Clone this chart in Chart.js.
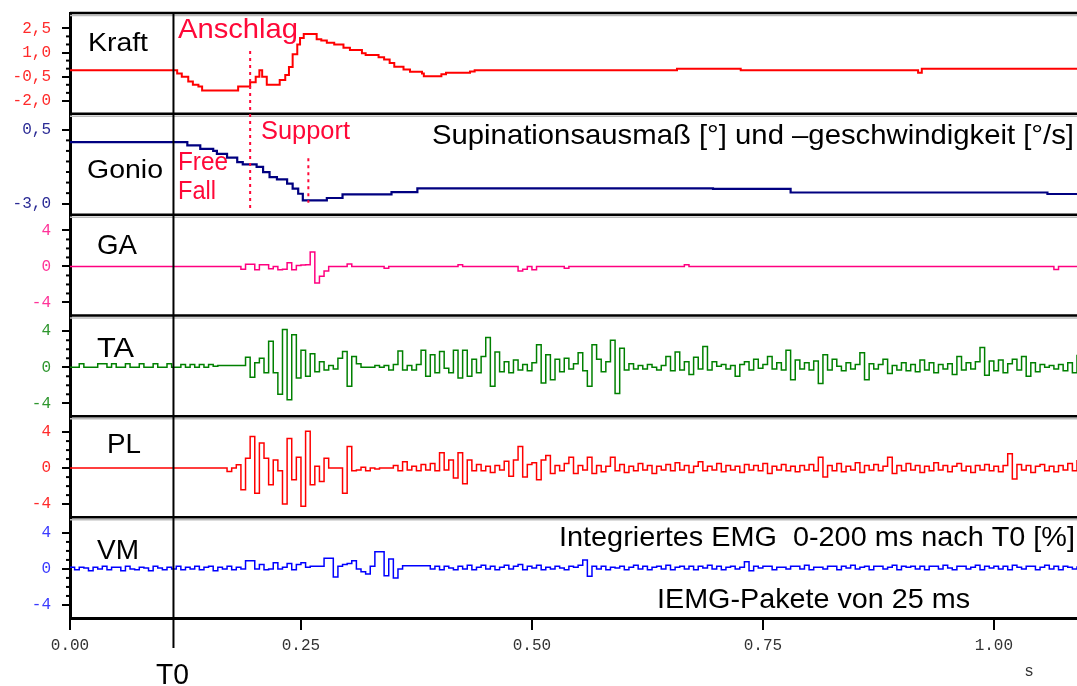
<!DOCTYPE html>
<html>
<head>
<meta charset="utf-8">
<title>Kraft, Gonio und EMG nach T0</title>
<script src="https://cdn.jsdelivr.net/npm/chart.js@4.4.1/dist/chart.umd.min.js"></script>
<style>
  html, body { margin: 0; padding: 0; background: #fff; }
</style>
</head>
<body>
<canvas id="chart" width="1077" height="686"></canvas>
<script>
// time axis in seconds
const TIME_MAX = 1.09;
const timeTicks = [0, 0.25, 0.5, 0.75, 1.0];
const T0 = 0.112;
const eventTimes = [0.195, 0.258]; // Anschlag, Support

// Kraft and Gonio are step signals: time of each change and the new value
const kraftTimes = [0, 0.116, 0.121, 0.128, 0.133, 0.139, 0.143, 0.182, 0.195, 0.201, 0.205, 0.208,
  0.213, 0.227, 0.233, 0.237, 0.241, 0.246, 0.249, 0.253, 0.267, 0.272, 0.278, 0.286, 0.296, 0.303,
  0.316, 0.320, 0.334, 0.340, 0.346, 0.351, 0.361, 0.368, 0.381, 0.383, 0.402, 0.407, 0.433, 0.438,
  0.657, 0.726, 0.918, 0.922, 1.09];
const kraftValues = [-0.1, -0.3, -0.5, -0.8, -1.0, -1.1, -1.35, -1.1, -0.85, -0.5, -0.1, -0.5,
  -1.0, -0.7, -0.4, 0.1, 0.9, 1.5, 1.9, 2.15, 1.83, 1.75, 1.6, 1.5, 1.3, 1.16,
  0.95, 0.84, 0.7, 0.57, 0.35, 0.12, -0.05, -0.19, -0.3, -0.47, -0.35, -0.26, -0.18, -0.1,
  0.0, -0.1, -0.25, 0.0, 0.0];

const gonioTimes = [0, 0.127, 0.141, 0.155, 0.159, 0.170, 0.181, 0.187, 0.202, 0.209, 0.216, 0.224,
  0.235, 0.241, 0.247, 0.252, 0.278, 0.295, 0.348, 0.376, 0.696, 0.780, 1.058, 1.09];
const gonioValues = [-0.08, -0.24, -0.4, -0.5, -0.64, -0.82, -1.03, -1.14, -1.26, -1.5, -1.74, -1.85,
  -2.05, -2.29, -2.53, -2.84, -2.73, -2.56, -2.45, -2.27, -2.3, -2.47, -2.54, -2.54];

// EMG channels, one value every 5 ms
const EMG_DT = 0.005;
const gaValues = [
  0, 0, 0, 0, 0, 0, 0, 0, 0, 0,
  0, 0, 0, 0, 0, 0, 0, 0, 0, 0,
  0, 0, 0, 0, 0, 0, 0, 0, 0, 0,
  0, 0, 0, 0, 0, 0, 0, -0.3, 0.25, 0.25,
  -0.37, 0.2, 0.2, -0.26, 0, -0.37, -0.3, 0.4, -0.37, 0.1,
  0.15, 0.2, 1.6, -1.85, -1.1, -0.5, 0, 0, 0, 0,
  0.26, 0, 0, 0, 0, 0, 0, 0, -0.2, 0,
  0, 0, 0, 0, 0, 0, 0, 0, 0, 0,
  0, 0, 0, 0, 0.2, 0, 0, 0, 0, 0,
  0, 0, 0, 0, 0, 0, 0, -0.5, -0.3, 0,
  -0.37, 0, 0, 0, 0, 0, 0, -0.2, 0, 0,
  0, 0, 0, 0, 0, 0, 0, 0, 0, 0,
  0, 0, 0, 0, 0, 0, 0, 0, 0, 0,
  0, 0, 0, 0.2, 0, 0, 0, 0, 0, 0,
  0, 0, 0, 0, 0, 0, 0, 0, 0, 0,
  0, 0, 0, 0, 0, 0, 0, 0, 0, 0,
  0, 0, 0, 0, 0, 0, 0, 0, 0, 0,
  0, 0, 0, 0, 0, 0, 0, 0, 0, 0,
  0, 0, 0, 0, 0, 0, 0, 0, 0, 0,
  0, 0, 0, 0, 0, 0, 0, 0, 0, 0,
  0, 0, 0, 0, 0, 0, 0, 0, 0, 0,
  0, 0, 0, -0.35, 0, 0, 0, 0, 0
];
const taValues = [
  0, 0, 0.4, 0, 0, 0, 0.4, 0.4, 0, 0.4,
  0, 0, 0.4, 0, 0, 0.4, 0, 0, 0.4, 0,
  0, 0.4, 0, 0, 0.3, 0, 0.3, 0, 0.3, 0,
  0.3, 0.1, 0.2, 0.2, 0.2, 0.2, 0.2, 0.2, 1.1, -1.1,
  0.5, 1.0, -0.6, 2.9, -0.6, -3.0, 4.2, -3.6, 3.6, -1.2,
  1.9, -1.0, 1.5, -0.5, 0.6, -0.3, 0.2, -0.2, 1.0, 1.75,
  -2.1, 1.2, 0.4, 0, 0, 0, 0.2, 0, 0.2, -0.3,
  0.3, 1.8, -0.3, 0.2, -0.3, 0.3, 1.9, -1.0, 1.4, -0.6,
  1.75, -0.1, -0.6, 1.9, -1.2, 1.9, -1.0, 0.9, -0.6, 1.2,
  3.3, -2.1, 1.7, -0.5, 0.6, -0.6, 0.8, -0.3, 0.3, -0.4,
  0.5, 2.5, -1.75, 1.4, -1.4, 0.9, -0.5, 1.0, -0.2, 0.4,
  1.6, -0.4, -2.1, 2.5, 0.9, -0.5, 0.6, 3.0, -2.9, 2.1,
  -0.3, 0.4, -0.2, 0.2, -0.2, 0.3, 0, -0.3, 0.2, 1.2,
  -0.4, 1.7, -0.3, 0.6, -0.8, 1.1, -0.2, 2.3, -0.3, 0.6,
  0.1, 0.3, -0.2, 0.2, -1.0, 0.3, 0.6, -0.3, 0.9, -0.1,
  0.3, 1.2, -0.2, 0.5, -0.3, 1.9, -1.4, 0.8, -0.2, 0.5,
  -0.3, 0.7, -1.8, 1.4, -0.3, 0.9, 0.1, -0.4, 0.5, -0.2,
  0.3, 1.6, -1.4, 0.4, -0.2, 0.3, 0.9, -0.7, 0.2, -0.3,
  0.5, -0.4, 0.3, -0.5, 0.8, -0.3, 0.5, -0.6, 0.3, -0.2,
  0.4, -0.8, 1.2, -0.3, 0.5, -0.2, 0.6, 2.2, -0.9, 0.7,
  -0.4, 0.8, -0.6, 0.4, 0.9, -0.3, 1.2, -1.0, 0.5, -0.5,
  0.3, 0, 0.2, -0.2, 0.3, -0.4, 0.5, -0.6, 1.4
];
const plValues = [
  0, 0, 0, 0, 0, 0, 0, 0, 0, 0,
  0, 0, 0, 0, 0, 0, 0, 0, 0, 0,
  0, 0, 0, 0, 0, 0, 0, 0, 0, 0,
  0, 0, 0, 0, -0.37, 0, 0.37, -2.4, 1.1, 3.5,
  -2.8, 2.8, 1.1, -1.85, 0.9, -0.3, -4.0, 3.3, -1.3, 1.2,
  -4.25, 4.1, -1.85, 0.2, -1.5, 1.1, 0, 0, 0, -2.8,
  2.4, -0.3, -0.2, 0.1, -0.3, 0, -0.1, 0, 0, 0,
  0.3, -0.3, 0.7, -0.2, 0.2, -0.3, 0.4, -0.2, 0.5, -0.3,
  1.7, -0.2, 0.9, -1.1, 1.7, -1.75, 0.9, -0.3, 0.4, -0.3,
  0.2, -0.5, 0.3, -0.2, 0.75, -0.9, 0.9, 2.4, -1.0, 0.4,
  0.6, -1.3, 0.9, 1.4, -0.6, 0.3, -0.3, 0.5, 1.2, -0.6,
  0.3, -0.2, 1.2, -0.6, 0.3, -0.4, 0.2, 1.2, -0.3, 0.4,
  -0.5, 0.2, -0.3, 0.5, -0.2, 0.3, -0.6, 0.2, -0.2, 0.4,
  -0.3, 0.6, -0.2, 0.3, -0.5, 0.2, 0.7, -0.3, 0.2, -0.2,
  0.5, -0.4, 0.3, -0.2, 0.2, -0.5, 0.4, -0.2, 0.3, -0.3,
  0.5, -0.6, 0.2, -0.2, 0.4, -0.3, 0.2, -0.4, 0.3, -0.2,
  0.4, -0.3, 1.2, -1.0, 0.3, -0.3, 0.5, -0.4, 0.2, -0.2,
  0.6, -0.5, 0.3, -0.2, 0.4, -0.3, 0.2, 1.2, -0.6, 0.3,
  -0.3, 0.5, -0.2, 0.3, -0.5, 0.2, -0.3, 0.6, -0.2, 0.3,
  -0.4, 0.2, 0.5, -0.3, 0.2, -0.5, 0.3, -0.2, 0.4, -0.3,
  0.2, -0.4, 0.3, 1.6, -1.2, 0.4, -0.2, 0.3, -0.5, 0.2,
  0.4, -0.3, 0.2, -0.4, 0.3, -0.2, 0.5, -0.3, 0.9
];
const vmValues = [
  0.2, -0.1, 0.2, 0.1, -0.2, 0.2, 0, 0.3, -0.1, 0.2,
  0.2, -0.2, 0.3, 0, -0.1, 0.2, 0.1, -0.2, 0.3, 0.1,
  -0.1, 0.2, 0, 0.3, -0.1, 0.2, 0, 0.3, -0.1, 0.2,
  0.3, -0.2, 0.2, 0, 0.3, -0.1, 0.2, 0, 0.9, 0.9,
  0, 0.5, -0.1, 0, 0.7, 0, 0.2, 0.6, -0.1, 0.5,
  0.7, 0.2, 0.3, 0.3, 0.3, 1.2, 1.2, -0.9, 0.3, 0.5,
  0.6, 0.9, 0, -0.3, -0.55, 0.3, 1.9, 1.9, -0.75, 1.1,
  -1.0, 0, 0.35, 0.35, 0.35, 0.35, 0.35, 0.35, 0, 0.3,
  -0.1, 0.3, 0.1, -0.1, 0.3, 0, 0.4, -0.1, 0.2, 0.4,
  0, 0.3, -0.1, 0.2, 0.4, 0, 0.3, 0.5, -0.1, 0.3,
  0.1, 0.4, -0.1, 0.2, 0, 0.3, 0.1, -0.1, 0.3, 0.2,
  0.4, 1.0, -0.8, 0.3, 0, 0.3, -0.1, 0.2, 0.1, 0.3,
  -0.1, 0.2, 0.4, 0, 0.3, -0.1, 0.2, 0.3, 0, 0.4,
  -0.1, 0.2, 0.3, 0, 0.3, -0.1, 0.3, 0.1, 0.4, 0,
  0.3, -0.1, 0.2, 0.3, 0, 0.2, 0.8, -0.2, 0.3, 0.1,
  0.3, 0.3, -0.1, 0.2, 0.2, 0, 0.3, 0.3, 0, 0.4,
  -0.1, 0.2, 0.2, 0, 0.3, 0.3, -0.1, 0.3, 0.1, 0.4,
  0, 0.2, 0.3, -0.1, 0.3, 0.3, 0, 0.2, 0.4, -0.1,
  0.3, 0.2, 0.3, 0, 0.3, -0.1, 0.3, 0.3, 0, 0.4,
  0.1, -0.1, 0.3, 0.3, 0, 0.2, 0.4, -0.1, 0.3, 0.1,
  0.3, 0, 0.3, -0.1, 0.4, 0.2, 0, 0.3, 0.3, -0.1,
  0.2, 0.4, 0, 0.3, -0.1, 0.3, 0.2, 0, 0.3
];

// labelled y ticks of each panel
const kraftTicks = [2.5, 1.0, -0.5, -2.0];
const gonioTicks = [0.5, -3.0];
const emgTicks = [4, 0, -4];

const RED_TEXT = '#ff0838';
const MONO = 'Liberation Mono, DejaVu Sans Mono, monospace';
const SANS = 'Liberation Sans, Arial, sans-serif';

// one entry per stacked panel, top to bottom
const panels = [
  { id: 'yKraft', min: -2.8, max: 3.45, ticks: kraftTicks, minor: 0.5, digits: 1, line: '#ff0000', label: '#ff2a2a', width: 2 },
  { id: 'yGonio', min: -3.52, max: 1.257, ticks: gonioTicks, minor: 0.5, digits: 1, line: '#000080', label: '#2b2b95', width: 2.2 },
  { id: 'yGA', min: -5.45, max: 5.75, ticks: emgTicks, minor: 1, digits: 0, line: '#ff0080', label: '#ff3399', width: 1.5 },
  { id: 'yTA', min: -5.45, max: 5.75, ticks: emgTicks, minor: 1, digits: 0, line: '#008000', label: '#2e962e', width: 1.5 },
  { id: 'yPL', min: -5.45, max: 5.75, ticks: emgTicks, minor: 1, digits: 0, line: '#ff0000', label: '#ff2a2a', width: 1.5 },
  { id: 'yVM', min: -5.45, max: 5.75, ticks: emgTicks, minor: 1, digits: 0, line: '#0000ff', label: '#3a3aff', width: 1.5 }
];

function steps(times, values) {
  return times.map((t, i) => ({ x: t, y: values[i] }));
}
function sampled(values) {
  return values.map((v, i) => ({ x: i * EMG_DT, y: v }));
}

const series = [kraftValues, gonioValues, gaValues, taValues, plValues, vmValues];
const datasets = panels.map((p, i) => ({
  data: i === 0 ? steps(kraftTimes, kraftValues)
      : i === 1 ? steps(gonioTimes, gonioValues)
      : sampled(series[i]),
  yAxisID: p.id,
  borderColor: p.line,
  borderWidth: p.width,
  stepped: 'before',
  pointRadius: 0,
  fill: false
}));

const scales = {
  x: {
    type: 'linear',
    min: 0,
    max: TIME_MAX,
    afterBuildTicks: s => { s.ticks = timeTicks.map(v => ({ value: v })); },
    afterFit: s => { s.height = 68; },
    ticks: {
      callback: v => v.toFixed(2),
      color: '#333',
      font: { family: MONO, size: 16 },
      padding: 6,
      maxRotation: 0,
      autoSkip: false
    },
    grid: { drawOnChartArea: false, tickLength: 12, color: '#000', lineWidth: 2 },
    border: { color: '#000', width: 3 }
  }
};
panels.forEach((p, i) => {
  scales[p.id] = {
    type: 'linear',
    position: 'left',
    stack: 'panels',
    stackWeight: 1,
    weight: panels.length - i, // higher weight is placed first (top)
    min: p.min,
    max: p.max,
    afterBuildTicks: s => { s.ticks = p.ticks.map(v => ({ value: v })); },
    afterFit: s => {
      s.width = 70;
      // labels never reach the panel edges, so no extra room is needed
      s.paddingTop = 0;
      s.paddingBottom = 0;
    },
    ticks: {
      callback: v => v.toFixed(p.digits).replace('.', ','),
      color: p.label,
      font: { family: MONO, size: 16 },
      padding: 11,
      autoSkip: false
    },
    grid: { drawOnChartArea: false, tickLength: 8, color: '#000', lineWidth: 2 },
    border: { color: '#000', width: 3 }
  };
});

// text drawn over the plot: string, left x, cap-centre y, size, target width, colour
const notes = [
  ['Kraft', 88, 44, 26, 60, '#000'],
  ['Anschlag', 178, 30, 28, 120, RED_TEXT],
  ['Gonio', 87, 171, 26, 76, '#000'],
  ['Free', 178, 163.5, 25, 50, RED_TEXT],
  ['Fall', 178, 192, 25, 38, RED_TEXT],
  ['Support', 261, 132, 25, 89, RED_TEXT],
  ['Supinationsausmaß [°] und –geschwindigkeit [°/s]', 432, 136, 28, 642, '#000'],
  ['GA', 97, 246, 28, 40, '#000'],
  ['TA', 97, 349, 28, 37, '#000'],
  ['PL', 107, 445.5, 28, 34, '#000'],
  ['VM', 97, 551, 28, 42, '#000'],
  ['Integriertes EMG  0-200 ms nach T0 [%]', 559, 538, 28, 516, '#000'],
  ['IEMG-Pakete von 25 ms', 657, 600, 28, 313, '#000'],
  ['T0', 156, 675.5, 29, 33, '#000']
];

function line(ctx, x1, y1, x2, y2) {
  ctx.beginPath();
  ctx.moveTo(x1, y1);
  ctx.lineTo(x2, y2);
  ctx.stroke();
}

const overlay = {
  id: 'overlay',
  afterDraw(chart) {
    const { ctx, chartArea: a, scales: s } = chart;
    ctx.save();

    // frame lines between the panels, with the faint grey shadow under each
    panels.forEach(p => {
      const y = s[p.id].top;
      ctx.strokeStyle = '#bbb';
      ctx.lineWidth = 1.5;
      line(ctx, a.left, y + 2.5, a.right, y + 2.5);
      ctx.strokeStyle = '#000';
      ctx.lineWidth = 2.5;
      line(ctx, a.left, y, a.right, y);
    });

    // minor ticks on each y axis
    ctx.strokeStyle = '#000';
    ctx.lineWidth = 2;
    panels.forEach(p => {
      const sc = s[p.id];
      const hi = Math.max(...p.ticks), lo = Math.min(...p.ticks);
      for (let v = hi; v >= lo - 1e-6; v -= p.minor) {
        if (p.ticks.some(t => Math.abs(t - v) < 1e-6)) continue;
        const y = sc.getPixelForValue(v);
        line(ctx, a.left - 4, y, a.left, y);
      }
    });

    // T0 marker
    const xT0 = s.x.getPixelForValue(T0);
    ctx.lineWidth = 2;
    line(ctx, xT0, a.top, xT0, a.bottom + 30);

    // dotted event markers (Anschlag, Support)
    ctx.strokeStyle = RED_TEXT;
    ctx.lineWidth = 2;
    ctx.setLineDash([3, 4]);
    const x1 = s.x.getPixelForValue(eventTimes[0]);
    line(ctx, x1, s.yKraft.getPixelForValue(1.1), x1, s.yGonio.getPixelForValue(-3.25));
    const x2 = s.x.getPixelForValue(eventTimes[1]);
    line(ctx, x2, s.yGonio.getPixelForValue(-0.85), x2, s.yGonio.getPixelForValue(-2.95));
    ctx.setLineDash([]);

    // labels, squeezed to the width they take in the original
    ctx.textBaseline = 'middle';
    ctx.textAlign = 'left';
    notes.forEach(([text, x, y, size, w, color]) => {
      ctx.font = size + 'px ' + SANS;
      const m = ctx.measureText(text).width;
      ctx.save();
      ctx.translate(x, y);
      ctx.scale(w / m, 1);
      ctx.fillStyle = color;
      ctx.fillText(text, 0, 0);
      ctx.restore();
    });

    // unit of the time axis
    ctx.font = '16px ' + MONO;
    ctx.fillStyle = '#333';
    ctx.textAlign = 'center';
    ctx.fillText('s', 1029, 672);

    ctx.restore();
  }
};

new Chart(document.getElementById('chart'), {
  type: 'line',
  data: { datasets },
  options: {
    responsive: false,
    devicePixelRatio: 1,
    animation: false,
    layout: { padding: { top: 13, left: 0, right: 0, bottom: 0 } },
    elements: { line: { tension: 0 } },
    plugins: { legend: { display: false }, tooltip: { enabled: false } },
    scales
  },
  plugins: [overlay]
});
</script>
</body>
</html>
